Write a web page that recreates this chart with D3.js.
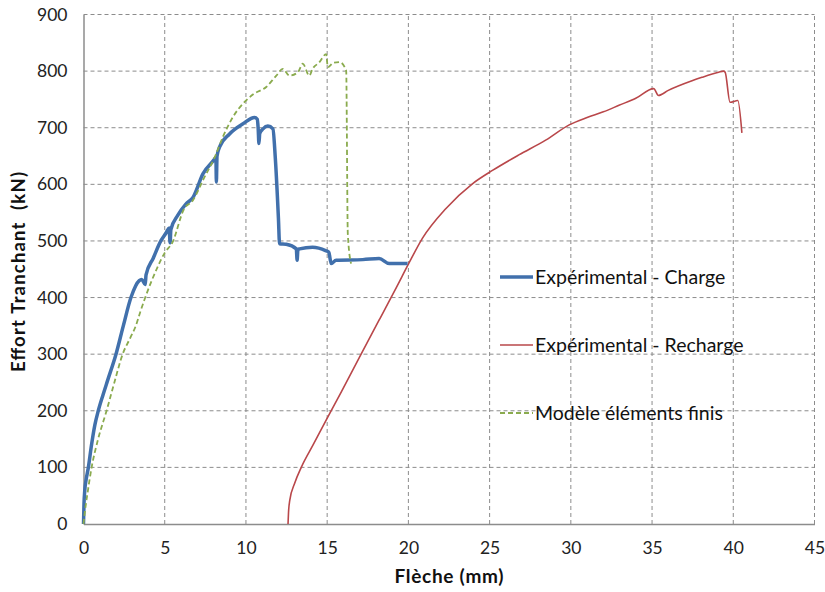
<!DOCTYPE html>
<html>
<head>
<meta charset="utf-8">
<script src="https://cdn.jsdelivr.net/npm/d3@7"></script>
<style>
  body { margin: 0; background: #fff; }
  svg { display: block; font-family: Lato, "Open Sans", sans-serif; }
</style>
</head>
<body>
<svg id="chart" width="825" height="592"></svg>
<script>
// Ticks
var xTicks = [0, 5, 10, 15, 20, 25, 30, 35, 40, 45];
var yTicks = [0, 100, 200, 300, 400, 500, 600, 700, 800, 900];

// Expérimental - Charge (blue)
var chargeX = [0, 0.03, 0.08, 0.16, 0.3, 0.47, 0.7, 0.91, 1.2, 1.5, 2.0, 2.45, 2.92, 3.43, 3.59, 3.8, 3.85, 4.3, 4.76, 5.1, 5.27, 5.33, 5.38, 5.8, 6.3, 6.74, 7.36, 8.08, 8.15, 8.18, 8.22, 8.38, 8.99, 9.82, 10.53, 10.7, 10.75, 10.8, 10.85, 11.05, 11.35, 11.66, 11.8, 12.0, 12.07, 12.48, 13.1, 13.15, 13.2, 13.3, 14.1, 14.9, 15.1, 15.25, 15.55, 17.19, 18.2, 18.83, 19.95];
var chargeY = [0, 35, 60, 78, 100, 135, 175, 200, 228, 255, 300, 350, 400, 430, 432, 423, 440, 470, 500, 515, 523, 497, 520, 545, 565, 577, 619, 645, 648, 604, 650, 666, 689, 707, 718, 715, 700, 672, 690, 698, 703, 698, 650, 540, 495, 494, 486, 466, 485, 486, 489, 483, 480, 460, 466, 467, 469, 460, 460];

// Expérimental - Recharge (red)
var rechargeX = [12.59, 12.62, 12.7, 13.0, 13.42, 14.14, 15.06, 15.88, 17.0, 18.25, 19.28, 20.0, 20.87, 22.3, 23.94, 25.2, 26.8, 28.45, 29.9, 31, 32, 33, 34, 35.1, 35.4, 36.0, 37.46, 38.07, 39.1, 39.4, 39.5, 39.8, 40.28, 40.53];
var rechargeY = [0, 20, 42, 72, 101, 140, 190, 234, 295, 363, 419, 459, 505, 557, 601, 625, 652, 678, 705, 718, 728, 740, 752, 769, 757, 766, 783, 789, 798, 800, 798, 745, 748, 691];

// Modèle éléments finis (green dashed)
var modelX = [0, 0.1, 0.25, 0.5, 0.9, 1.42, 1.9, 2.41, 2.9, 3.22, 3.5, 3.8, 4.5, 5.02, 5.47, 6.18, 6.74, 7.4, 8.08, 8.6, 9.2, 10.0, 10.5, 11.25, 11.87, 12.27, 12.68, 13.2, 13.5, 13.9, 14.1, 14.5, 14.94, 15.04, 15.4, 15.76, 16.17, 16.27, 16.47];
var modelY = [0, 25, 55, 100, 150, 200, 250, 300, 330, 350, 375, 400, 450, 480, 497, 556, 572, 610, 648, 685, 719, 748, 760, 772, 792, 804, 792, 798, 813, 792, 804, 815, 830, 807, 815, 816, 801, 513, 460];

var seriesNames = ['Expérimental - Charge', 'Expérimental - Recharge', 'Modèle éléments finis'];

var svg = d3.select('#chart');

var x = d3.scaleLinear().domain([0, 45]).range([83.5, 814.5]);
var y = d3.scaleLinear().domain([0, 900]).range([524, 14.5]);

// Grid lines (dashed)
var grid = svg.append('g').attr('class', 'grid');
grid.selectAll('line.h')
    .data(yTicks.slice(1))
  .enter().append('line')
    .attr('x1', x(0)).attr('x2', x(45))
    .attr('y1', function(d){ return y(d); })
    .attr('y2', function(d){ return y(d); })
    .attr('stroke', '#8c8c8c').attr('stroke-width', 1)
    .attr('stroke-dasharray', '4,3');
grid.selectAll('line.v')
    .data(xTicks.slice(1))
  .enter().append('line')
    .attr('y1', y(0)).attr('y2', y(900))
    .attr('x1', function(d){ return x(d); })
    .attr('x2', function(d){ return x(d); })
    .attr('stroke', '#8c8c8c').attr('stroke-width', 1)
    .attr('stroke-dasharray', '4,3');

// Axes
var yAxis = svg.append('g')
    .attr('transform', 'translate(' + x(0) + ',0)')
    .call(d3.axisLeft(y).tickValues(yTicks).tickSize(0).tickPadding(16));
var xAxis = svg.append('g')
    .attr('transform', 'translate(0,' + y(0) + ')')
    .call(d3.axisBottom(x).tickValues(xTicks).tickSize(0).tickPadding(18));

[xAxis, yAxis].forEach(function(a){
    a.select('.domain').attr('stroke', '#8c8c8c').attr('stroke-width', 1.5);
    a.selectAll('text').attr('font-size', 17.5).attr('fill', '#222')
        .attr('font-family', 'Lato, sans-serif');
});

// Axis titles
svg.append('text')
    .attr('x', x(22.5)).attr('y', 583)
    .attr('text-anchor', 'middle')
    .attr('font-size', 19).attr('font-weight', 'bold').attr('fill', '#111')
    .attr('textLength', 109).attr('lengthAdjust', 'spacing')
    .text('Flèche (mm)');
svg.append('text')
    .attr('transform', 'translate(25,272) rotate(-90)')
    .attr('text-anchor', 'middle')
    .style('white-space', 'pre')
    .attr('font-size', 18.5).attr('font-weight', 'bold').attr('fill', '#111')
    .attr('textLength', 200).attr('lengthAdjust', 'spacing')
    .text('Effort Tranchant  (kN)');

// Series
function zipXY(xs, ys){
    return xs.map(function(v, i){ return [v, ys[i]]; });
}

// x values rise in every series, so monotoneX smooths without overshoot
var line = d3.line()
    .x(function(d){ return x(d[0]); })
    .y(function(d){ return y(d[1]); })
    .curve(d3.curveMonotoneX);

var series = [
    { name: seriesNames[0], data: zipXY(chargeX, chargeY), color: '#4170ac', width: 3.5, dash: null },
    { name: seriesNames[1], data: zipXY(rechargeX, rechargeY), color: '#b9474a', width: 1.6, dash: null },
    { name: seriesNames[2], data: zipXY(modelX, modelY), color: '#8aab4e', width: 1.8, dash: '5,3' }
];

// draw order: recharge, charge, then model dashes on top
svg.append('g').selectAll('path')
    .data([series[1], series[0], series[2]])
  .enter().append('path')
    .attr('d', function(d){ return line(d.data); })
    .attr('fill', 'none')
    .attr('stroke', function(d){ return d.color; })
    .attr('stroke-width', function(d){ return d.width; })
    .attr('stroke-dasharray', function(d){ return d.dash; })
    .attr('stroke-linejoin', 'round');

// Legend
var legend = svg.append('g').selectAll('g')
    .data(series)
  .enter().append('g')
    .attr('transform', function(d, i){ return 'translate(500,' + (277 + i * 68) + ')'; });
legend.append('line')
    .attr('x1', 0).attr('x2', 33)
    .attr('stroke', function(d){ return d.color; })
    .attr('stroke-width', function(d){ return d.width; })
    .attr('stroke-dasharray', function(d){ return d.dash; });
legend.append('text')
    .attr('x', 35).attr('y', 6.5)
    .attr('font-size', 19.5).attr('fill', '#111')
    .text(function(d){ return d.name; });
</script>
</body>
</html>
